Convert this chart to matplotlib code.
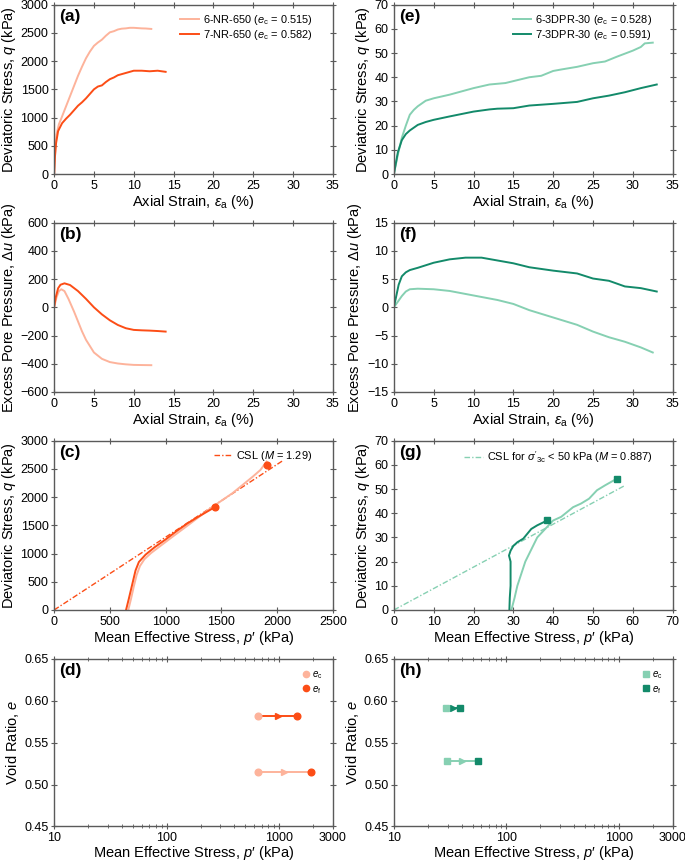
"""
Triaxial test results: NR-650 vs 3DPR-30 (stress-strain, pore pressure,
stress paths and void ratio change).
"""

import numpy as np
import matplotlib
matplotlib.use('Agg')
import matplotlib.pyplot as plt
from matplotlib.ticker import FixedLocator, LogLocator, NullFormatter

plt.rcParams['font.family'] = ['Liberation Sans', 'DejaVu Sans']
plt.rcParams['mathtext.fontset'] = 'custom'
plt.rcParams['mathtext.rm'] = 'Liberation Sans'
plt.rcParams['mathtext.it'] = 'Liberation Sans:italic'
plt.rcParams['mathtext.bf'] = 'Liberation Sans:bold'
plt.rcParams['axes.unicode_minus'] = True

OR_LIGHT = '#fdb39b'
OR_DARK = '#fc4d16'
TE_LIGHT = '#86d0b2'
TE_DARK = '#138a6a'
SPINE = '#5a5a5a'
LABEL_FS = 10.5
TICK_FS = 9
LEG_FS = 7.9
P_LABEL = 'Mean Effective Stress, $p$\u2032 (kPa)'

# --- (a) deviatoric stress vs axial strain, NR-650
nr6_ea = [0, 0.15, 0.3, 0.6, 1, 1.5, 2, 2.5, 3, 3.5, 4, 4.5, 5, 5.5, 6, 6.5,
          7, 7.5, 8, 8.5, 9, 9.5, 10, 10.5, 11, 11.5, 12.2]
nr6_q = [0, 450, 700, 880, 1020, 1200, 1380, 1560, 1740, 1900, 2050, 2170,
         2270, 2330, 2380, 2450, 2510, 2530, 2560, 2575, 2580, 2590, 2590,
         2585, 2580, 2578, 2570]
nr7_ea = [0, 0.1, 0.25, 0.5, 1, 1.5, 2, 2.5, 3, 3.5, 4, 4.5, 5, 5.5, 6, 6.5,
          7, 7.5, 8, 8.5, 9, 9.5, 10, 11, 12, 13, 14]
nr7_q = [0, 300, 550, 760, 900, 980, 1050, 1130, 1210, 1270, 1340, 1420,
         1500, 1550, 1570, 1630, 1680, 1710, 1750, 1770, 1790, 1810, 1830,
         1830, 1820, 1830, 1810]

# --- (b) excess pore pressure, NR-650
nr6_du_ea = [0, 0.3, 0.6, 0.9, 1.3, 1.8, 2.5, 3, 3.5, 4, 5, 6, 7, 8, 9, 10,
             11, 12.2]
nr6_du = [0, 70, 115, 128, 115, 60, -30, -100, -170, -230, -320, -365, -388,
          -398, -404, -408, -409, -410]
nr7_du_ea = [0, 0.2, 0.5, 0.8, 1.3, 2, 3, 4, 5, 6, 7, 8, 9, 10, 11, 12, 13,
             14]
nr7_du = [0, 70, 135, 160, 170, 158, 115, 60, 0, -50, -92, -125, -148, -160,
          -163, -165, -168, -172]

# --- (e) deviatoric stress vs axial strain, 3DPR-30
dp6_ea = [0, 0.5, 1, 1.5, 2, 2.5, 3, 4, 5, 7, 10, 12, 14, 15, 17, 18.5, 20,
          21, 23, 25, 26.5, 28, 30, 31, 31.5, 32.5]
dp6_q = [0, 8, 15, 20, 24.5, 26.5, 28, 30.3, 31.3, 32.8, 35.5, 37, 37.6,
         38.4, 40, 40.6, 42.6, 43.2, 44.3, 45.8, 46.5, 48.5, 51, 52.5, 54,
         54.3]
dp7_ea = [0, 0.5, 1, 1.5, 2, 3, 4, 5, 7, 10, 12, 13, 15, 17, 20, 23, 25, 27,
          29, 31, 33]
dp7_q = [0, 9, 14, 16.5, 18, 20.3, 21.5, 22.4, 23.8, 25.8, 26.7, 27, 27.2,
         28.3, 29, 29.8, 31.3, 32.4, 33.8, 35.5, 37]

# --- (f) excess pore pressure, 3DPR-30
dp6_du_ea = [0, 0.5, 1, 1.5, 2, 3, 5, 7, 10, 13, 15, 17, 20, 23, 25, 27, 29,
             31, 32.5]
dp6_du = [0, 1.0, 2.0, 2.8, 3.2, 3.3, 3.2, 2.9, 2.1, 1.3, 0.6, -0.5, -1.8,
          -3.1, -4.3, -5.3, -6.1, -7.1, -8.0]
dp7_du_ea = [0, 0.3, 0.6, 1, 1.5, 2, 3, 5, 7, 9, 11, 13, 15, 17, 20, 23, 25,
             27, 29, 31, 33]
dp7_du = [0, 2.0, 4.0, 5.5, 6.2, 6.6, 7.0, 7.9, 8.5, 8.8, 8.8, 8.3, 7.8, 7.1,
          6.5, 6.0, 5.1, 4.7, 3.7, 3.4, 2.8]

# --- (c) stress paths, NR-650
M_NR = 1.29
csl_nr_p = [0, 2050]
nr6_p_path = [665, 690, 715, 740, 770, 810, 870, 950, 1050, 1200, 1400, 1600,
              1780, 1850, 1905]
nr6_q_path = [0, 200, 420, 620, 780, 900, 1010, 1130, 1280, 1500, 1800, 2070,
              2360, 2480, 2630]
nr7_p_path = [645, 670, 700, 730, 760, 820, 900, 1000, 1100, 1200, 1300,
              1440]
nr7_q_path = [0, 200, 450, 700, 850, 980, 1110, 1250, 1400, 1540, 1660, 1820]
nr_pf = [1905, 1440]
nr_qf = [2570, 1820]

# --- (g) stress paths, 3DPR-30
M_DP = 0.887
csl_dp_p = [0, 58]
dp6_p_path = [29.5, 30.3, 31, 32, 33, 34.5, 36, 38, 40, 42, 45, 47, 49, 51,
              53, 56]
dp6_q_path = [0, 5, 10, 15, 20, 25, 30, 33.5, 37, 38.5, 42.5, 44, 46, 49.5,
              51.5, 54.3]
dp7_p_path = [29, 29.1, 29.3, 29.3, 28.9, 29.3, 30, 31, 32.5, 33.5, 34.5, 36,
              38.5]
dp7_q_path = [0, 5, 10, 20, 22.5, 24.5, 26.5, 28, 29.5, 31.5, 33.5, 35, 37]
dp_pf = [56, 38.5]
dp_qf = [54.3, 37]

# --- (d), (h) void ratio vs mean effective stress
nr_e = [0.515, 0.582]
nr_pc = [650, 650]
dp_e = [0.528, 0.591]
dp_pc = [29.5, 29]


def style_axes(ax):
    for sp in ax.spines.values():
        sp.set_color(SPINE)
        sp.set_linewidth(1.0)
    ax.tick_params(which='both', direction='inout', top=True, right=True,
                   color=SPINE, labelsize=TICK_FS, pad=1.5)
    ax.tick_params(which='major', length=5)
    ax.tick_params(which='minor', length=3)


def panel_label(ax, s):
    ax.text(0.018, 0.975, s, transform=ax.transAxes, fontsize=12.5,
            fontweight='bold', va='top', ha='left')


def set_labels(ax, xlabel, ylabel, xpad=1.0):
    ax.set_xlabel(xlabel, fontsize=LABEL_FS, labelpad=xpad)
    ax.set_ylabel(ylabel, fontsize=LABEL_FS, labelpad=2)


def top_legend(ax, **kw):
    ax.legend(loc='upper right', bbox_to_anchor=(0.95, 0.99), frameon=False,
              fontsize=LEG_FS, handlelength=1.7, handletextpad=0.35,
              labelspacing=0.1, borderaxespad=0.2, **kw)


def strain_axes(ax, ylim, ystep, ylabel):
    ax.set_xlim(0, 35)
    ax.set_ylim(*ylim)
    ax.set_xticks(np.arange(0, 36, 5))
    ax.set_yticks(np.arange(ylim[0], ylim[1] + ystep / 2, ystep))
    set_labels(ax, r'Axial Strain, $\varepsilon_\mathrm{a}$ (%)', ylabel)
    style_axes(ax)


def void_axes(ax):
    ax.set_xscale('log')
    ax.set_xlim(10, 3000)
    ax.set_ylim(0.45, 0.65)
    ax.xaxis.set_major_locator(FixedLocator([10, 100, 1000, 3000]))
    ax.set_xticklabels(['10', '100', '1000', '3000'])
    ax.xaxis.set_minor_locator(LogLocator(base=10, subs=np.arange(2, 10)))
    ax.xaxis.set_minor_formatter(NullFormatter())
    ax.set_yticks([0.45, 0.50, 0.55, 0.60, 0.65])
    ax.set_yticklabels(['0.45', '0.50', '0.55', '0.60', '0.65'])
    set_labels(ax, P_LABEL, r'Void Ratio, $e$', xpad=0.0)
    style_axes(ax)


def void_change(ax, pc, pf, e, light, dark, marker):
    colors = [light, dark]
    for i in range(2):
        c = colors[i]
        ax.plot([pc[i], pf[i]], [e[i], e[i]], color=c, lw=1.4, zorder=2)
        pm = np.sqrt(pc[i] * pf[i])
        ax.plot(pm, e[i], marker='>', color=c, ms=4.5, zorder=3)
        ax.plot(pc[i], e[i], marker=marker, color=light, ms=4.8, ls='none',
                zorder=4)
        ax.plot(pf[i], e[i], marker=marker, color=dark, ms=4.8, ls='none',
                zorder=4)
    hc, = ax.plot([], [], marker=marker, color=light, ms=4.5, ls='none')
    hf, = ax.plot([], [], marker=marker, color=dark, ms=4.5, ls='none')
    ax.legend([hc, hf], [r'$e_\mathrm{c}$', r'$e_\mathrm{f}$'],
              loc='upper right', bbox_to_anchor=(0.985, 0.97), frameon=False,
              fontsize=7, handletextpad=0.0, labelspacing=0.25,
              borderaxespad=0.2, handlelength=1.2)


fig = plt.figure(figsize=(6.85, 8.64), dpi=100)
lefts = [0.079, 0.575]
w = 0.407
bottoms = [0.7986, 0.5463, 0.294, 0.0435]
h = 0.196

ax_a = fig.add_axes([lefts[0], bottoms[0], w, h])
ax_e = fig.add_axes([lefts[1], bottoms[0], w, h])
ax_b = fig.add_axes([lefts[0], bottoms[1], w, h])
ax_f = fig.add_axes([lefts[1], bottoms[1], w, h])
ax_c = fig.add_axes([lefts[0], bottoms[2], w, h])
ax_g = fig.add_axes([lefts[1], bottoms[2], w, h])
ax_d = fig.add_axes([lefts[0], bottoms[3], w, h - 0.002])
ax_h = fig.add_axes([lefts[1], bottoms[3], w, h - 0.002])

# (a)
ax_a.plot(nr6_ea, nr6_q, color=OR_LIGHT, lw=1.4,
          label=r'6-NR-650 ($e_\mathrm{c}$ = 0.515)')
ax_a.plot(nr7_ea, nr7_q, color=OR_DARK, lw=1.4,
          label=r'7-NR-650 ($e_\mathrm{c}$ = 0.582)')
strain_axes(ax_a, (0, 3000), 500, r'Deviatoric Stress, $q$ (kPa)')
top_legend(ax_a)
panel_label(ax_a, '(a)')

# (e)
ax_e.plot(dp6_ea, dp6_q, color=TE_LIGHT, lw=1.4,
          label=r'6-3DPR-30 ($e_\mathrm{c}$ = 0.528)')
ax_e.plot(dp7_ea, dp7_q, color=TE_DARK, lw=1.4,
          label=r'7-3DPR-30 ($e_\mathrm{c}$ = 0.591)')
strain_axes(ax_e, (0, 70), 10, r'Deviatoric Stress, $q$ (kPa)')
top_legend(ax_e)
panel_label(ax_e, '(e)')

# (b)
ax_b.plot(nr6_du_ea, nr6_du, color=OR_LIGHT, lw=1.4)
ax_b.plot(nr7_du_ea, nr7_du, color=OR_DARK, lw=1.4)
strain_axes(ax_b, (-600, 600), 200, r'Excess Pore Pressure, $\Delta u$ (kPa)')
panel_label(ax_b, '(b)')

# (f)
ax_f.plot(dp6_du_ea, dp6_du, color=TE_LIGHT, lw=1.4)
ax_f.plot(dp7_du_ea, dp7_du, color=TE_DARK, lw=1.4)
strain_axes(ax_f, (-15, 15), 5, r'Excess Pore Pressure, $\Delta u$ (kPa)')
panel_label(ax_f, '(f)')

# (c)
csl_nr_q = [M_NR * p for p in csl_nr_p]
ax_c.plot(csl_nr_p, csl_nr_q, color=OR_DARK, lw=1.0, ls=(0, (4, 1.5, 1, 1.5)),
          label=r'CSL ($M$ = 1.29)')
ax_c.plot(nr6_p_path, nr6_q_path, color=OR_LIGHT, lw=1.4)
ax_c.plot(nr7_p_path, nr7_q_path, color=OR_DARK, lw=1.4)
ax_c.plot(nr_pf, nr_qf, 'o', color=OR_DARK, ms=4.8)
ax_c.set_xlim(0, 2500)
ax_c.set_ylim(0, 3000)
ax_c.set_xticks(np.arange(0, 2501, 500))
ax_c.set_yticks(np.arange(0, 3001, 500))
set_labels(ax_c, P_LABEL, r'Deviatoric Stress, $q$ (kPa)')
style_axes(ax_c)
top_legend(ax_c)
panel_label(ax_c, '(c)')

# (g)
csl_dp_q = [M_DP * p for p in csl_dp_p]
ax_g.plot(csl_dp_p, csl_dp_q, color=TE_LIGHT, lw=1.0, ls=(0, (4, 1.5, 1, 1.5)),
          label=r"CSL for $\sigma'_{3\mathrm{c}}$ < 50 kPa ($M$ = 0.887)")
ax_g.plot(dp6_p_path, dp6_q_path, color=TE_LIGHT, lw=1.4)
ax_g.plot(dp7_p_path, dp7_q_path, color=TE_DARK, lw=1.4)
ax_g.plot(dp_pf, dp_qf, 's', color=TE_DARK, ms=4.8)
ax_g.set_xlim(0, 70)
ax_g.set_ylim(0, 70)
ax_g.set_xticks(np.arange(0, 71, 10))
ax_g.set_yticks(np.arange(0, 71, 10))
set_labels(ax_g, P_LABEL, r'Deviatoric Stress, $q$ (kPa)')
style_axes(ax_g)
top_legend(ax_g)
panel_label(ax_g, '(g)')

# (d)
void_axes(ax_d)
void_change(ax_d, nr_pc, nr_pf, nr_e, OR_LIGHT, OR_DARK, 'o')
panel_label(ax_d, '(d)')

# (h)
void_axes(ax_h)
void_change(ax_h, dp_pc, dp_pf, dp_e, TE_LIGHT, TE_DARK, 's')
panel_label(ax_h, '(h)')

fig.savefig('out.png', dpi=100)
